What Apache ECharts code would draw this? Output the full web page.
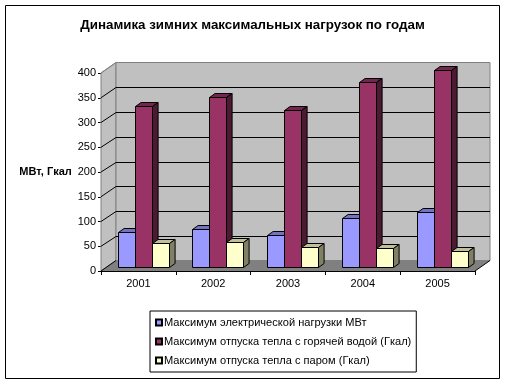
<!DOCTYPE html>
<html><head><meta charset="utf-8">
<style>html,body{margin:0;padding:0;background:#fff}#c{width:506px;height:384px}</style>
<script src="https://cdn.jsdelivr.net/npm/echarts@6/dist/echarts.min.js"></script>
</head><body><div id="c"></div>
<script>
const categories = ['2001','2002','2003','2004','2005'];
const electric = [71, 77, 65, 99, 111];
const hotWater = [326, 344, 318, 374, 398];
const steam = [48, 51, 40, 38, 33];
const seriesNames = ['Максимум электрической нагрузки МВт','Максимум отпуска тепла с горячей водой (Гкал)','Максимум отпуска тепла с паром (Гкал)'];
const yTicks = [50,100,150,200,250,300,350];

const FONT = 'Liberation Sans, Arial, sans-serif';
const DX = 15, DY = -10.5;         // wall depth
const BDX = 5.6, BDY = -4;         // bar depth
const chart = echarts.init(document.getElementById('c'), null, {renderer:'canvas'});

function wallRender(params, api){
  const a = api.coord([0, 0]);
  const size = api.size([1, 0])[0];
  const x0 = a[0] - size/2, y0 = a[1];
  const x1 = x0 + size*categories.length;
  const yTop = api.coord([0, 400])[1];
  const c = [];
  c.push({type:'polygon',shape:{points:[[x0,yTop],[x0+DX,yTop+DY],[x0+DX,y0+DY],[x0,y0]]},style:{fill:'#c0c0c0',stroke:'#808080',lineWidth:1}});
  c.push({type:'polygon',shape:{points:[[x0+DX,yTop+DY],[x1+DX,yTop+DY],[x1+DX,y0+DY],[x0+DX,y0+DY]]},style:{fill:'#c0c0c0',stroke:'#808080',lineWidth:1}});
  c.push({type:'polygon',shape:{points:[[x0,y0],[x0+DX,y0+DY],[x1+DX,y0+DY],[x1,y0]]},style:{fill:'#808080'}});
  yTicks.forEach(v=>{
    const y = api.coord([0,v])[1];
    const by = Math.round(y+DY)+0.5;
    c.push({type:'polyline',shape:{points:[[x0,y],[x0+DX,by],[x1+DX,by]]},style:{fill:'none',stroke:'#000',lineWidth:1}});
  });
  c.push({type:'line',shape:{x1:x0,y1:yTop,x2:x0+DX,y2:yTop+DY},style:{stroke:'#808080',lineWidth:1}});
  c.push({type:'line',shape:{x1:x0,y1:y0,x2:x0+DX,y2:y0+DY},style:{stroke:'#000',lineWidth:1}});
  c.push({type:'line',shape:{x1:x1,y1:y0,x2:x1+DX,y2:y0+DY},style:{stroke:'#000',lineWidth:1}});
  return {type:'group',children:c};
}

function barRender(idx, front, top, side){
  return function(params, api){
    const p = api.coord([api.value(0), api.value(1)]);
    const base = api.coord([api.value(0), 0]);
    const band = api.size([1,0])[0];
    const w = band*0.2273;
    const shiftX = DX/2 - BDX/2, shiftY = DY/2 - BDY/2 - 0.75;
    const x = Math.round(p[0] + shiftX + (idx-1.5)*w) + 0.5;
    const x2 = Math.round(p[0] + shiftX + (idx-0.5)*w) + 0.5;
    const yT = Math.round(p[1] + shiftY) + 0.5;
    const yB = Math.round(base[1] + shiftY) + 0.5;
    const st = f => ({fill:f,stroke:'#000',lineWidth:1});
    return {type:'group',children:[
      {type:'polygon',shape:{points:[[x,yT],[x+BDX,yT+BDY],[x2+BDX,yT+BDY],[x2,yT]]},style:st(top)},
      {type:'polygon',shape:{points:[[x2,yT],[x2+BDX,yT+BDY],[x2+BDX,yB+BDY],[x2,yB]]},style:st(side)},
      {type:'rect',shape:{x:x,y:yT,width:x2-x,height:yB-yT},style:st(front)}
    ]};
  };
}
function barSeries(i, values, front, top, side){
  return {type:'custom',name:seriesNames[i],coordinateSystem:'cartesian2d',clip:false,
    itemStyle:{color:front,borderColor:'#000',borderWidth:1},
    encode:{x:0,y:1},
    data:categories.map((c,k)=>[c,values[k]]),
    renderItem:barRender(i,front,top,side),z:3};
}

chart.setOption({
  animation:false,
  backgroundColor:'#fff',
  textStyle:{fontFamily:FONT,color:'#000'},
  title:{text:'Динамика зимних максимальных нагрузок по годам',left:247.5,top:14,textAlign:'center',
    textStyle:{fontFamily:FONT,fontSize:13.33,fontWeight:'bold',color:'#000'}},
  graphic:[{type:'rect',silent:true,z:-1,shape:{x:5.5,y:5.5,width:494,height:373},style:{fill:'none',stroke:'#000',lineWidth:1}}],
  grid:{left:101,width:374,top:73,height:198,outerBoundsMode:'none'},
  xAxis:{type:'category',data:categories,boundaryGap:true,
    axisLine:{show:true,lineStyle:{color:'#000',width:1}},
    axisTick:{show:true,length:4,alignWithLabel:false,lineStyle:{color:'#000'}},
    axisLabel:{fontFamily:FONT,fontSize:11,color:'#000',margin:7},splitLine:{show:false},z:5},
  yAxis:{type:'value',min:0,max:400,interval:50,name:'МВт, Гкал',nameLocation:'middle',nameRotate:0,nameGap:29,
    nameTextStyle:{fontFamily:FONT,fontSize:11,fontWeight:'bold',color:'#000'},
    axisLine:{show:true,lineStyle:{color:'#000',width:1}},
    axisTick:{show:true,length:3,lineStyle:{color:'#000'}},
    axisLabel:{fontFamily:FONT,fontSize:11,color:'#000',margin:5},splitLine:{show:false}},
  legend:{orient:'vertical',left:150,top:311,width:266,height:59,
    data:seriesNames,itemWidth:6,itemHeight:6,itemGap:8,padding:[6,5,6,5],
    borderColor:'#000',borderWidth:1,backgroundColor:'#fff',
    icon:'rect',
    textStyle:{fontFamily:FONT,fontSize:11.07,color:'#000',padding:[0,0,0,-3]}},
  series:[
    {type:'custom',name:'walls',coordinateSystem:'cartesian2d',silent:true,clip:false,z:1,
     encode:{x:0,y:1},data:[[categories[0],0]],renderItem:wallRender},
    barSeries(0,electric,'#9999ff','#7373bf','#4d4d80'),
    barSeries(1,hotWater,'#993366','#732650','#4d1a33'),
    barSeries(2,steam,'#ffffcc','#bfbf99','#808066')
  ]
});
</script></body></html>
